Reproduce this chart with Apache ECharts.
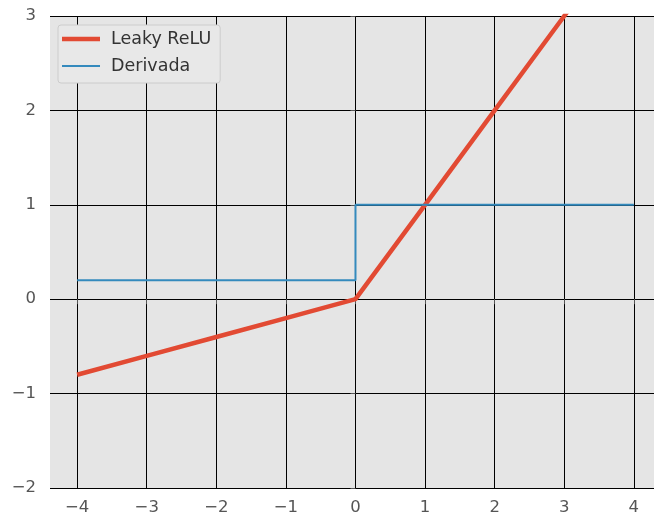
<!DOCTYPE html>
<html>
<head>
<meta charset="utf-8">
<script src="https://cdn.jsdelivr.net/npm/echarts@6/dist/echarts.min.js"></script>
<style>
  html, body { margin: 0; padding: 0; background: #ffffff; overflow: hidden; }
  #chart { width: 654px; height: 519px; }
</style>
</head>
<body>
<div id="chart"></div>
<script>
// Leaky ReLU (alpha = 0.2) and its derivative
const xPoints = [-4, -3, -2, -1, 0, 1, 2, 3, 4];
const leakyValues = [-0.8, -0.6, -0.4, -0.2, 0, 1, 2, 3, 4];
const derivX = [-4, 0, 0, 4];
const derivValues = [0.2, 0.2, 1, 1];
const xTicks = [-4, -3, -2, -1, 0, 1, 2, 3, 4];

const fmt = v => (v < 0 ? '\u2212' + Math.abs(v) : String(v));

const chart = echarts.init(document.getElementById('chart'), null, { renderer: 'canvas' });

chart.setOption({
  backgroundColor: '#ffffff',
  animation: false,
  grid: {
    left: 50, top: 16, bottom: 31, right: 0,
    show: true, backgroundColor: '#E5E5E5', borderWidth: 0
  },
  legend: {
    left: 58, top: 25,
    orient: 'vertical',
    padding: [5, 9, 8, 4],
    itemWidth: 38, itemHeight: 14, itemGap: 9,
    backgroundColor: '#E8E8E8',
    borderColor: '#CCCCCC', borderWidth: 1, borderRadius: 3,
    textStyle: { fontFamily: 'DejaVu Sans', fontSize: 17.5, color: '#333333', padding: [0, 0, 0, 6] },
    data: [
      { name: 'Leaky ReLU', icon: 'path://M0,0h38v4.5h-38z', itemStyle: { color: '#E24A33' } },
      { name: 'Derivada', icon: 'path://M0,0h38v2h-38z', itemStyle: { color: '#348ABD' } }
    ]
  },
  xAxis: {
    type: 'value', min: -4.39, max: 4.29,
    axisLine: { show: false },
    axisTick: { show: true, length: 5, lineStyle: { color: '#555555' }, customValues: xTicks },
    axisLabel: { customValues: xTicks, formatter: fmt, margin: 11,
      fontFamily: 'DejaVu Sans', fontSize: 16.5, color: '#555555' },
    splitLine: { show: true, lineStyle: { color: '#000000', width: 1 } }
  },
  yAxis: {
    type: 'value', min: -2, max: 3, interval: 1,
    axisLine: { show: false },
    axisTick: { show: true, length: 5, lineStyle: { color: '#555555' } },
    axisLabel: { formatter: fmt, margin: 14,
      fontFamily: 'DejaVu Sans', fontSize: 16.5, color: '#555555' },
    splitLine: { show: true, lineStyle: { color: '#000000', width: 1 } }
  },
  series: [
    {
      name: 'Leaky ReLU', type: 'line', symbol: 'none', clip: true,
      data: xPoints.map((x, i) => [x, leakyValues[i]]),
      lineStyle: { color: '#E24A33', width: 4.5 },
      itemStyle: { color: '#E24A33' }
    },
    {
      name: 'Derivada', type: 'line', symbol: 'none', clip: true,
      data: derivX.map((x, i) => [x, derivValues[i]]),
      lineStyle: { color: '#348ABD', width: 2 },
      itemStyle: { color: '#348ABD' }
    }
  ]
});
</script>
</body>
</html>
